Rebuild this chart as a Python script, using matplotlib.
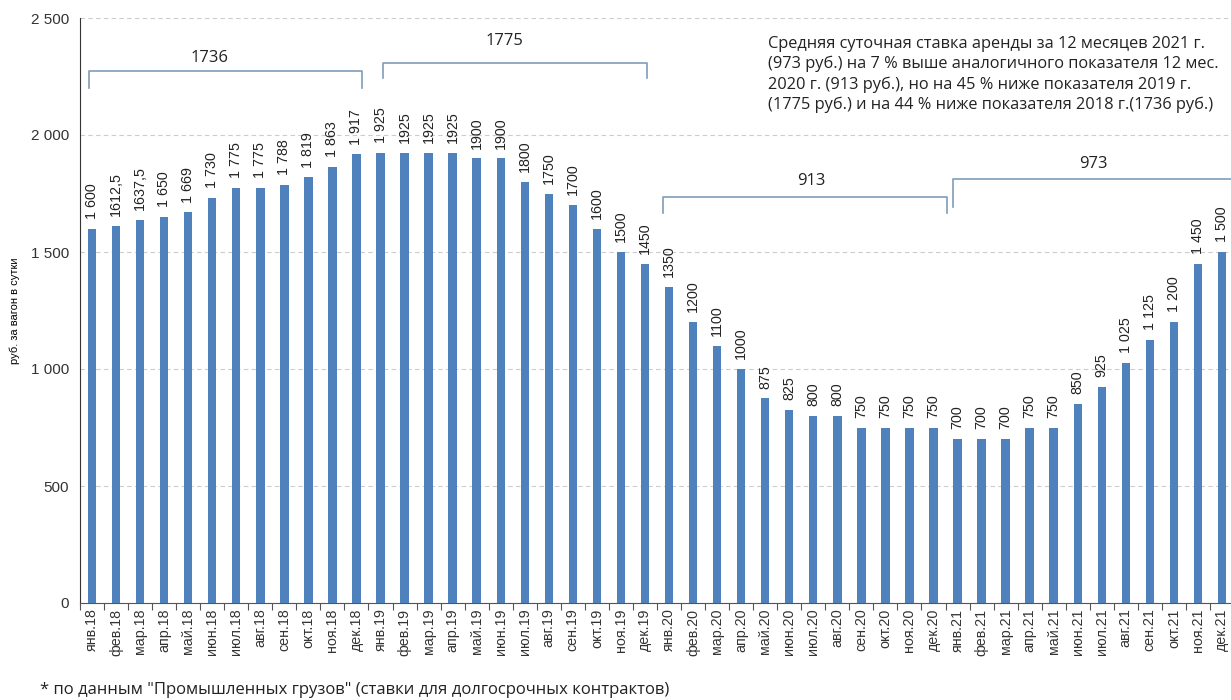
import matplotlib.pyplot as plt
import numpy as np

months = ["янв", "фев", "мар", "апр", "май", "июн",
          "июл", "авг", "сен", "окт", "ноя", "дек"]
years = ["18", "19", "20", "21"]
categories = [m + "." + y for y in years for m in months]

values = [1600, 1612.5, 1637.5, 1650, 1669, 1730, 1775, 1775, 1788, 1819, 1863, 1917,
          1925, 1925, 1925, 1925, 1900, 1900, 1800, 1750, 1700, 1600, 1500, 1450,
          1350, 1200, 1100, 1000, 875, 825, 800, 800, 750, 750, 750, 750,
          700, 700, 700, 750, 750, 850, 925, 1025, 1125, 1200, 1450, 1500]

value_labels = ["1 600", "1612,5", "1637,5", "1 650", "1 669", "1 730", "1 775", "1 775",
                "1 788", "1 819", "1 863", "1 917",
                "1 925", "1925", "1925", "1925", "1900", "1900", "1800", "1750", "1700",
                "1600", "1500", "1450",
                "1350", "1200", "1100", "1000", "875", "825", "800", "800", "750", "750",
                "750", "750",
                "700", "700", "700", "750", "750", "850", "925", "1 025", "1 125", "1 200",
                "1 450", "1 500"]

# yearly averages shown over brackets
year_avg = ["1736", "1775", "913", "973"]

bar_color = "#4F81BD"
line_color = "#7F9DB9"

fig = plt.figure(figsize=(12.31, 7), dpi=100)
ax = fig.add_axes([80/1231, 97/700, 1154/1231, 585/700])

x = np.arange(len(values))
ax.bar(x, values, width=0.35, color=bar_color, zorder=3)

for xi, v, lab in zip(x, values, value_labels):
    ax.annotate(lab, (xi, v), xytext=(0, 7), textcoords="offset points",
                rotation=90, ha="center", va="bottom", fontsize=10.3,
                family="Liberation Sans", color="#222222")

ax.set_xlim(-0.5, len(values) - 0.5)
ax.set_ylim(0, 2500)
ax.set_yticks(np.arange(0, 2501, 500))
ax.set_yticklabels([f"{v:,}".replace(",", " ") for v in range(0, 2501, 500)],
                   fontsize=11, family="Liberation Sans", color="#333333")
ax.yaxis.grid(True, linestyle=(0, (4, 3)), color="#CCCCCC", linewidth=0.8, zorder=0)
ax.tick_params(axis="y", length=0, pad=8)

ax.set_xticks(np.arange(-0.5, len(values), 1))
ax.set_xticklabels([])
ax.tick_params(axis="x", which="major", length=5, direction="out", color="#555555")
ax.set_xticks(x, minor=True)
ax.set_xticklabels(categories, minor=True, rotation=90, fontsize=10.3,
                   family="Liberation Sans", color="#333333")
ax.tick_params(axis="x", which="minor", length=0, pad=4)

for s in ["top", "right"]:
    ax.spines[s].set_visible(False)
ax.spines["left"].set_color("#333333")
ax.spines["bottom"].set_color("#555555")

ax.set_ylabel("руб. за вагон в сутки", fontsize=8, family="Liberation Sans")
ax.yaxis.set_label_coords(-60/1154, 0.5)

# brackets: (start, end, top, left-bottom, right-bottom, label x, label y)
brackets = [(-0.12, 11.23, 2273, 2201, 2201, 4.87, 2295),
            (12.1, 23.1, 2308, 2244, 2244, 17.14, 2368),
            (23.75, 35.56, 1735, 1667, 1667, 29.9, 1769),
            (35.8, 47.6, 1812, 1692, 1692, 41.64, 1842)]
for (x0, x1, yt, yl, yr, tx, ty), lab in zip(brackets, year_avg):
    ax.plot([x0, x0, x1, x1], [yl, yt, yt, yr], color=line_color, lw=1.2,
            clip_on=False, zorder=4)
    ax.text(tx, ty, lab, ha="center", va="bottom", fontsize=12,
            family="Open Sans", color="#222222")

note = ("Средняя суточная ставка аренды за 12 месяцев 2021 г.\n"
        "(973 руб.) на 7 % выше аналогичного показателя 12 мес.\n"
        "2020 г. (913 руб.), но на 45 % ниже показателя 2019 г.\n"
        "(1775 руб.) и на 44 % ниже показателя 2018 г.(1736 руб.)")
fig.text(768/1231, 1 - 36/700, note, ha="left", va="top", fontsize=11.8,
         family="Open Sans", color="#222222", linespacing=1.33)

fig.text(40/1231, 1 - 690/700,
         '* по данным "Промышленных грузов" (ставки для долгосрочных контрактов)',
         ha="left", va="center", fontsize=12, family="Open Sans", color="#222222")

fig.savefig("out.png", dpi=100)
